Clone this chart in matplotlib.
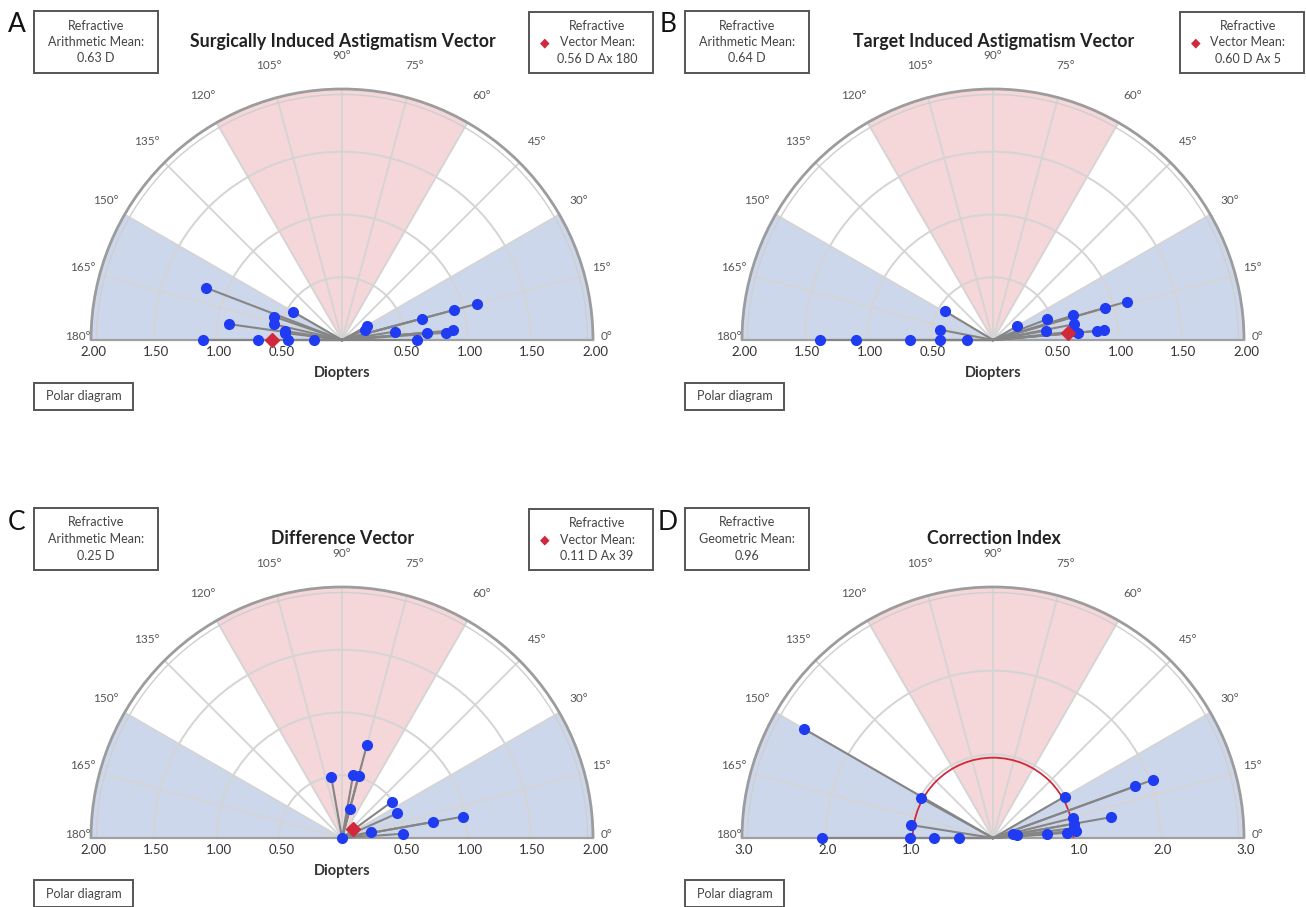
import numpy as np
import matplotlib
matplotlib.use('Agg')
import matplotlib.pyplot as plt
from matplotlib.patches import Wedge, Arc, Rectangle

W, H = 1306, 907
FONT = ['Lato', 'DejaVu Sans']
plt.rcParams['font.family'] = FONT

# ---------------- data ----------------
# Panel A: Surgically induced astigmatism (magnitude D, axis deg)
sia_mag = [1.16, 0.91, 1.11, 0.67, 0.57, 0.56, 0.45, 0.46, 0.46, 0.43, 0.22,
           0.20, 0.23, 0.43, 0.60, 0.66, 0.68, 0.83, 0.89, 0.92, 1.11]
sia_ax = [159, 172, 180, 180, 161, 167, 150, 171, 173, 180, 180,
          24, 29, 9, 0, 15, 5, 4, 5, 15, 15]
sia_mean = (0.56, 180)

# Panel B: Target induced astigmatism
tia_mag = [1.38, 1.09, 0.66, 0.42, 0.43, 0.45, 0.21,
           0.22, 0.46, 0.43, 0.67, 0.66, 0.65, 0.68, 0.83, 0.89, 0.93, 1.11]
tia_ax = [180, 180, 180, 180, 169, 149, 180,
          30, 21, 10, 17, 11, 6, 5, 5, 5, 16, 16]
tia_mean = (0.60, 5)

# Panel C: Difference vector
dv_mag = [0.77, 0.49, 0.51, 0.51, 0.24, 0.49, 0.48, 0.98, 0.74, 0.24, 0.49, 0.0]
dv_ax = [75, 100, 80, 75, 75, 36, 24, 10, 10, 12, 4, 0]
dv_mean = (0.11, 39)

# Panel D: Correction index
ci_mag = [2.61, 2.04, 0.99, 0.99, 0.99, 0.70, 0.41,
          0.25, 0.29, 0.65, 0.89, 0.99, 0.98, 0.98, 0.98, 0.99, 1.43, 1.80, 2.03]
ci_ax = [150, 180, 151, 171, 180, 180, 180,
         12, 6, 4, 4, 5, 14, 10, 7, 30, 10, 20, 20]
ci_geo_mean = 0.96

diopter_ticks = [0.5, 1.0, 1.5, 2.0]
diopter_labels = ['0.50', '1.00', '1.50', '2.00']
ci_ticks = [1.0, 2.0, 3.0]
ci_labels = ['1.0', '2.0', '3.0']

titles = ['Surgically Induced Astigmatism Vector', 'Target Induced Astigmatism Vector',
          'Difference Vector', 'Correction Index']
left_box_texts = [['Refractive', 'Arithmetic Mean:', '0.63 D'],
                  ['Refractive', 'Arithmetic Mean:', '0.64 D'],
                  ['Refractive', 'Arithmetic Mean:', '0.25 D'],
                  ['Refractive', 'Geometric Mean:', '0.96']]
right_box_texts = [['Refractive', 'Vector Mean:', '0.56 D Ax 180'],
                   ['Refractive', 'Vector Mean:', '0.60 D Ax 5'],
                   ['Refractive', 'Vector Mean:', '0.11 D Ax 39'],
                   None]
letters = ['A', 'B', 'C', 'D']

# ---------------- style ----------------
BLUE_FILL = '#cdd7ec'
PINK_FILL = '#f5d6d9'
GRID = '#d4d4d4'
PT_COL = '#1f3cf2'
LINE_COL = '#858585'
RED = '#d1283b'
R_PX = 251

fig = plt.figure(figsize=(W / 100, H / 100), dpi=100)


def fx(x):
    return x / W


def fy(y):
    return 1 - y / H


def box(x0, y0, x1, y1, lines, diamond=None, tx=None, fs=9.0):
    fig.add_artist(Rectangle((fx(x0), fy(y1)), (x1 - x0) / W, (y1 - y0) / H,
                             transform=fig.transFigure, fill=False,
                             ec='#555555', lw=1.4))
    cxp = (x0 + x1) / 2 if tx is None else tx
    n = len(lines)
    for i, t in enumerate(lines):
        yy = (y0 + y1) / 2 + (i - (n - 1) / 2) * 16.5
        fig.text(fx(cxp), fy(yy), t, ha='center', va='center', fontsize=fs,
                 color='#444444')
    if diamond is not None:
        fig.text(fx(diamond[0]), fy(diamond[1]), '\u25c6', ha='center',
                 va='center', fontsize=9, color=RED, family=['DejaVu Sans'])


def panel(cx, cy, rmax, rings, mags, axs, ticks, tlabels, mean=None,
          mean_arc=None, xlabel=True):
    scale = R_PX / rmax
    left, right, top, bottom = cx - 335, cx + 335, cy - 300, cy + 45
    ax = fig.add_axes([fx(left), fy(bottom), (right - left) / W,
                       (bottom - top) / H])
    ax.set_xlim((left - cx) / scale, (right - cx) / scale)
    ax.set_ylim((cy - bottom) / scale, (cy - top) / scale)
    ax.axis('off')

    ax.add_patch(Wedge((0, 0), rmax, 0, 180, fc='white', ec='none', zorder=0))
    ax.add_patch(Wedge((0, 0), rmax, 0, 30, fc=BLUE_FILL, ec='none', zorder=1))
    ax.add_patch(Wedge((0, 0), rmax, 150, 180, fc=BLUE_FILL, ec='none', zorder=1))
    ax.add_patch(Wedge((0, 0), rmax, 60, 120, fc=PINK_FILL, ec='none', zorder=1))

    for r in rings:
        ax.add_patch(Arc((0, 0), 2 * r, 2 * r, theta1=0, theta2=180,
                         color=GRID, lw=1.4, zorder=2))
    for a in range(15, 180, 15):
        t = np.deg2rad(a)
        ax.plot([0, rmax * np.cos(t)], [0, rmax * np.sin(t)], color=GRID,
                lw=1.3, zorder=2)
    ax.add_patch(Arc((0, 0), 2 * rmax * 0.978, 2 * rmax * 0.978, theta1=0,
                     theta2=180, color='#cfcfcf', lw=1.0, zorder=2))
    ax.add_patch(Arc((0, 0), 2 * rmax, 2 * rmax, theta1=0, theta2=180,
                     color='#9c9c9c', lw=2.0, zorder=3))
    ax.plot([-rmax, rmax], [0, 0], color='#a0a0a0', lw=1.6, zorder=3)

    if mean_arc is not None:
        ax.add_patch(Arc((0, 0), 2 * mean_arc, 2 * mean_arc, theta1=0,
                         theta2=180, color=RED, lw=1.3, zorder=3))

    th = np.deg2rad(np.asarray(axs, dtype=float))
    m = np.asarray(mags, dtype=float)
    xs, ys = m * np.cos(th), m * np.sin(th)
    for x, y in zip(xs, ys):
        ax.plot([0, x], [0, y], color=LINE_COL, lw=1.5, zorder=4)
    ax.plot(xs, ys, 'o', color=PT_COL, ms=7, mec=PT_COL, zorder=5,
            clip_on=False)
    if mean is not None:
        t = np.deg2rad(mean[1])
        ax.plot(mean[0] * np.cos(t), mean[0] * np.sin(t), 'D', color=RED,
                ms=7, zorder=6)

    # baseline tick labels
    for v, lab in zip(ticks, tlabels):
        for s in (-1, 1):
            ax.text(s * v + 2 / scale, -12 / scale, lab, ha='center',
                    va='center', fontsize=9.5, color='#333333')
    # angle labels
    for a in range(0, 181, 15):
        t = np.deg2rad(a)
        rl = R_PX * (1.052 + 0.07 * np.sin(t)) / scale
        ax.text(rl * np.cos(t), rl * np.sin(t) + 3 / scale, f'{a}\u00b0',
                ha='center', va='center', fontsize=8.5, color='#555555')
    if xlabel:
        fig.text(fx(cx), fy(cy + 33), 'Diopters', ha='center', va='center',
                 fontsize=10.5, fontweight='bold', color='#333333')
    return ax


centers = [(342, 340), (993, 340), (342, 838), (993, 838)]
data = [(sia_mag, sia_ax, sia_mean), (tia_mag, tia_ax, tia_mean),
        (dv_mag, dv_ax, dv_mean), (ci_mag, ci_ax, None)]

for i, ((cx, cy), (mags, axs, mean)) in enumerate(zip(centers, data)):
    if i < 3:
        panel(cx, cy, 2.0, [0.5, 1.0, 1.5], mags, axs, diopter_ticks,
              diopter_labels, mean=mean)
    else:
        panel(cx, cy, 3.0, [1.0, 2.0], mags, axs, ci_ticks, ci_labels,
              mean_arc=ci_geo_mean, xlabel=False)
    ox = cx - 342
    top = cy - 340 if cy < 600 else cy - 340 - 1
    fig.text(fx(cx + 1), fy(top + 42), titles[i], ha='center', va='center',
             fontsize=12.8, fontweight='bold', color='#222222')
    fig.text(fx(ox + 17), fy(top + 25), letters[i], ha='center',
             va='center', fontsize=19, color='#111111')
    box(ox + 34, top + 11, ox + 158, top + 73, left_box_texts[i])
    if right_box_texts[i] is not None:
        box(ox + 529, top + 12, ox + 653, top + 73, right_box_texts[i],
            diamond=(ox + 545, top + 43), tx=ox + 597)
    box(ox + 34, top + 383, ox + 133, top + 410, ['Polar diagram'])

fig.savefig('out.png', dpi=100)
